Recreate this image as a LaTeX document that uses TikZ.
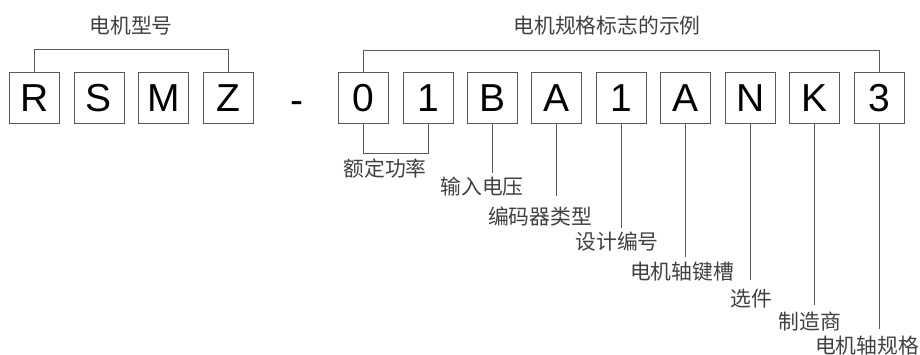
\documentclass[tikz,border=0pt]{standalone}
\usepackage{fontspec}
\setmainfont{Liberation Sans}
\newfontfamily\cjk{Noto Sans CJK SC}
\usepackage{tikz}
\tikzset{
  charbox/.style={draw=black!65, line width=0.9pt, minimum width=50pt, minimum height=51pt, inner sep=0pt, font=\fontsize{39}{39}\selectfont},
  lab/.style={inner sep=0pt, font=\cjk\fontsize{20.8}{21}\selectfont, text=black!75},
  lin/.style={draw=black!65, line width=0.9pt}
}

\begin{document}
\begin{tikzpicture}[x=1pt,y=-1pt]
  \useasboundingbox (0,0) rectangle (920,355);
  % model letters and spec letters
  \foreach \c [count=\i] in {R,S,M,Z}
    \node[charbox] (m\i) at ({34.5+64.5*(\i-1)},98) {\c};
  \node[inner sep=0pt, font=\fontsize{39}{39}\selectfont] (dash) at (296.5,107.5) {-};
  \foreach \c [count=\i] in {0,1,B,A,1,A,N,K,3}
    \node[charbox] (s\i) at ({363.5+64.45*(\i-1)},98) {\c};
  % labels
  \node[lab] (model) at (131,26) {电机型号};
  \node[lab] (spec) at (607,26) {电机规格标志的示例};
  \node[lab] (l2) at (385,169) {额定功率};
  \node[lab] (l3) at (482,187) {输入电压};
  \node[lab] (l4) at (540,217) {编码器类型};
  \node[lab] (l5) at (617,242) {设计编号};
  \node[lab] (l6) at (682,272) {电机轴键槽};
  \node[lab] (l7) at (751,299) {选件};
  \node[lab] (l8) at (810,322) {制造商};
  \node[lab] (l9) at (867,346) {电机轴规格};
  % brackets
  \draw[lin] (m1.north) -- (m1.north |- 0,49) -| (m4.north);
  \draw[lin] (s1.north) -- (s1.north |- 0,50) -| (s9.north);
  \draw[lin] (s1.south) -- (s1.south |- 0,153) -| (s2.south);
  % leader lines
  \foreach \i/\y in {3/173,4/196,5/228,6/257,7/280,8/305,9/329}{
    \coordinate (e\i) at (s\i.south |- 0,\y);
    \draw[lin] (s\i.south) -- (e\i);
  }
\end{tikzpicture}
\end{document}
